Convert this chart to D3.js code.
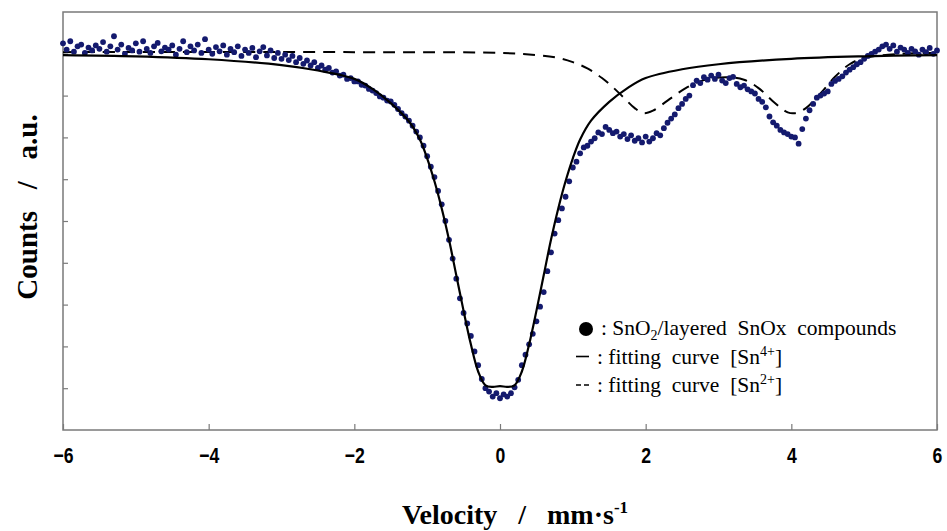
<!DOCTYPE html>
<html>
<head>
<meta charset="utf-8">
<script src="https://cdn.jsdelivr.net/npm/d3@7"></script>
<style>
  body { margin: 0; background: #fff; }
  svg { display: block; }
</style>
</head>
<body>
<svg width="947" height="531"></svg>
<script>
// MEASURED SPECTRUM: one count value per channel, channels every 0.05 mm/s from -6 to 6
const channelStart = -6;
const channelStep = 0.05;
const counts = [
  100.25,100.10,100.30,100.05,100.18,100.22,100.02,100.15,100.08,100.20,100.12,100.28,100.05,100.18,100.42,100.10,100.22,100.00,100.14,100.08,
  100.25,100.05,100.30,100.12,100.02,100.18,100.26,100.06,100.15,100.10,100.20,99.98,100.12,100.30,100.04,100.18,100.08,100.22,100.02,100.35,
  100.10,100.00,100.16,100.06,100.20,99.98,100.12,100.04,100.18,99.95,100.10,100.02,100.14,99.92,100.06,100.16,99.96,100.08,99.90,100.02,
  99.88,99.98,99.85,99.95,99.80,99.90,99.76,99.84,99.72,99.80,99.66,99.72,99.62,99.66,99.55,99.58,99.48,99.50,99.40,99.42,
  99.34,99.34,99.26,99.24,99.16,99.12,99.06,98.98,98.95,98.88,98.86,98.78,98.68,98.58,98.50,98.40,98.28,98.14,98.00,97.80,
  97.55,97.30,97.05,96.72,96.40,96.00,95.55,95.10,94.62,94.15,93.80,93.55,93.25,92.88,92.55,92.22,92.00,91.92,91.80,91.88,
  91.76,91.85,91.80,91.88,92.02,92.20,92.55,92.80,93.05,93.30,93.60,93.95,94.30,94.80,95.25,95.70,96.02,96.30,96.58,96.95,
  97.28,97.42,97.62,97.76,97.80,97.90,97.98,98.12,98.08,98.25,98.18,98.10,98.14,98.02,98.08,97.96,98.05,97.92,97.98,97.88,
  98.02,97.90,97.98,98.10,98.05,98.22,98.35,98.45,98.55,98.70,98.80,98.92,99.00,99.25,99.36,99.30,99.44,99.38,99.48,99.40,
  99.50,99.36,99.30,99.42,99.45,99.28,99.20,99.24,99.15,99.10,99.05,98.92,98.85,98.72,98.50,98.36,98.28,98.18,98.12,98.08,
  98.02,98.00,97.85,98.20,98.45,98.65,98.80,98.95,99.00,99.05,99.10,99.28,99.35,99.40,99.46,99.55,99.62,99.68,99.75,99.80,
  99.88,99.95,100.00,100.05,100.10,100.18,100.22,100.12,100.20,100.05,100.15,100.10,100.02,100.12,100.06,99.98,100.10,100.04,100.14,100.00,100.08
];

// FITTED CURVES
const sn4Velocity = [-6, -5, -4, -3, -2.5, -2, -1.75, -1.5, -1.25, -1.1, -1.0, -0.9, -0.8, -0.7, -0.6, -0.5, -0.4, -0.3, -0.2, -0.1, 0, 0.1, 0.2, 0.3, 0.4, 0.5, 0.6, 0.7, 0.8, 0.9, 1.0, 1.1, 1.25, 1.5, 1.75, 2, 2.5, 3, 4, 5, 6];
const sn4Counts = [99.97, 99.94, 99.87, 99.73, 99.60, 99.40, 99.16, 98.82, 98.38, 97.95, 97.50, 96.95, 96.30, 95.55, 94.70, 93.85, 93.05, 92.40, 92.07, 92.03, 92.05, 92.03, 92.07, 92.40, 93.05, 93.85, 94.70, 95.55, 96.30, 96.95, 97.50, 97.95, 98.40, 98.85, 99.18, 99.42, 99.63, 99.75, 99.88, 99.94, 99.97];

const sn2Velocity = [-6, -2, 0, 0.5, 0.8, 1.0, 1.2, 1.4, 1.55, 1.7, 1.85, 1.97, 2.1, 2.3, 2.55, 2.8, 3.1, 3.35, 3.55, 3.75, 3.95, 4.05, 4.2, 4.4, 4.6, 4.8, 5.0, 5.5, 6];
const sn2Counts = [100.04, 100.04, 100.02, 99.97, 99.90, 99.80, 99.65, 99.42, 99.20, 98.95, 98.70, 98.58, 98.64, 98.88, 99.18, 99.37, 99.44, 99.38, 99.18, 98.86, 98.60, 98.58, 98.70, 99.05, 99.45, 99.75, 99.90, 100.0, 100.02];

const xTicks = [-6, -4, -2, 0, 2, 4, 6];
const yTicks = [92, 93, 94, 95, 96, 97, 98, 99, 100];

const legendLabels = [
  { sym: 'dot', text: ': SnO', sub: '2', rest: '/layered  SnOx  compounds' },
  { sym: 'solid', text: ': fitting  curve  [Sn', sup: '4+', rest: ']' },
  { sym: 'dash', text: ': fitting  curve  [Sn', sup: '2+', rest: ']' }
];

let svg = d3.select('svg');
let margin = { left: 63, right: 10, top: 12, bottom: 101 };
let width = 947 - margin.left - margin.right;
let height = 531 - margin.top - margin.bottom;

let x = d3.scaleLinear().domain([-6, 6]).range([margin.left, margin.left + width]);
let y = d3.scaleLinear().domain([91, 101]).range([margin.top + height, margin.top]);

let frameColor = '#7a7a7a';

// FRAME
svg.append('rect')
  .attr('x', x(-6)).attr('y', y(101))
  .attr('width', x(6) - x(-6)).attr('height', y(91) - y(101))
  .attr('fill', 'none').attr('stroke', frameColor).attr('stroke-width', 1.5);

// AXES (ticks point inward)
let xAxis = d3.axisBottom(x).tickValues(xTicks).tickSize(-6).tickPadding(17)
  .tickFormat(d => d < 0 ? '\u2212' + Math.abs(d) : d);
let gx = svg.append('g').attr('transform', `translate(0,${y(91)})`).call(xAxis);
gx.select('.domain').remove();
gx.selectAll('line').attr('stroke', frameColor).attr('stroke-width', 1.2);
gx.selectAll('text')
  .attr('fill', '#000')
  .attr('transform', 'scale(0.8,1)')
  .style('font-family', '"Liberation Sans", Arial, sans-serif')
  .style('font-weight', 'bold')
  .style('font-size', '22px');

let yAxis = d3.axisLeft(y).tickValues(yTicks).tickSize(-5).tickFormat('');
let gy = svg.append('g').attr('transform', `translate(${x(-6)},0)`).call(yAxis);
gy.select('.domain').remove();
gy.selectAll('line').attr('stroke', frameColor).attr('stroke-width', 1.2);

// FIT CURVES
let line = d3.line().x(d => x(d[0])).y(d => y(d[1])).curve(d3.curveCatmullRom.alpha(0.5));

let sn2 = sn2Velocity.map((v, i) => [v, sn2Counts[i]]);
svg.append('path')
  .attr('d', line(sn2))
  .attr('fill', 'none').attr('stroke', '#000')
  .attr('stroke-width', 2).attr('stroke-dasharray', '12,8');

// DATA POINTS
let points = counts.map((c, i) => [channelStart + i * channelStep, c]);
svg.append('g').selectAll('circle')
  .data(points)
  .join('circle')
  .attr('cx', d => x(d[0]))
  .attr('cy', d => y(d[1]))
  .attr('r', 2.9)
  .attr('fill', '#141a6e');

let sn4 = sn4Velocity.map((v, i) => [v, sn4Counts[i]]);
svg.append('path')
  .attr('d', line(sn4))
  .attr('fill', 'none').attr('stroke', '#000')
  .attr('stroke-width', 2.2);

// AXIS TITLES
let serif = '"Liberation Serif", "Times New Roman", serif';

let xt = svg.append('text')
  .attr('x', 515).attr('y', 524)
  .attr('text-anchor', 'middle')
  .style('white-space', 'pre')
  .style('font-family', serif).style('font-weight', 'bold').style('font-size', '28px');
xt.append('tspan').text('Velocity   /   mm\u00B7s');
xt.append('tspan').attr('dy', -11).style('font-size', '17px').text('-1');

svg.append('text')
  .attr('transform', 'translate(37,207) rotate(-90)')
  .attr('text-anchor', 'middle')
  .style('font-family', serif).style('font-weight', 'bold').style('font-size', '29px')
  .style('white-space', 'pre')
  .text('Counts   /   a.u.');

// LEGEND
let legend = svg.append('g').style('font-family', serif).style('font-size', '21.5px');
legendLabels.forEach((d, idx) => {
  let ly = 335 + idx * 28.5;
  if (d.sym === 'dot') {
    legend.append('circle').attr('cx', 586).attr('cy', ly - 6).attr('r', 7).attr('fill', '#000');
  } else if (d.sym === 'solid') {
    legend.append('line').attr('x1', 576).attr('x2', 589).attr('y1', ly - 7).attr('y2', ly - 7)
      .attr('stroke', '#000').attr('stroke-width', 1.6);
  } else {
    legend.append('line').attr('x1', 576).attr('x2', 589).attr('y1', ly - 7).attr('y2', ly - 7)
      .attr('stroke', '#000').attr('stroke-width', 1.6).attr('stroke-dasharray', '5,3');
  }
  let t = legend.append('text').attr('x', idx === 0 ? 601 : 597).attr('y', ly).style('white-space', 'pre');
  t.append('tspan').text(d.text);
  if (d.sub) {
    t.append('tspan').attr('dy', 5).style('font-size', '14px').text(d.sub);
    t.append('tspan').attr('dy', -5).text(d.rest);
  } else {
    t.append('tspan').attr('dy', -8).style('font-size', '14px').text(d.sup);
    t.append('tspan').attr('dy', 8).text(d.rest);
  }
});
</script>
</body>
</html>
